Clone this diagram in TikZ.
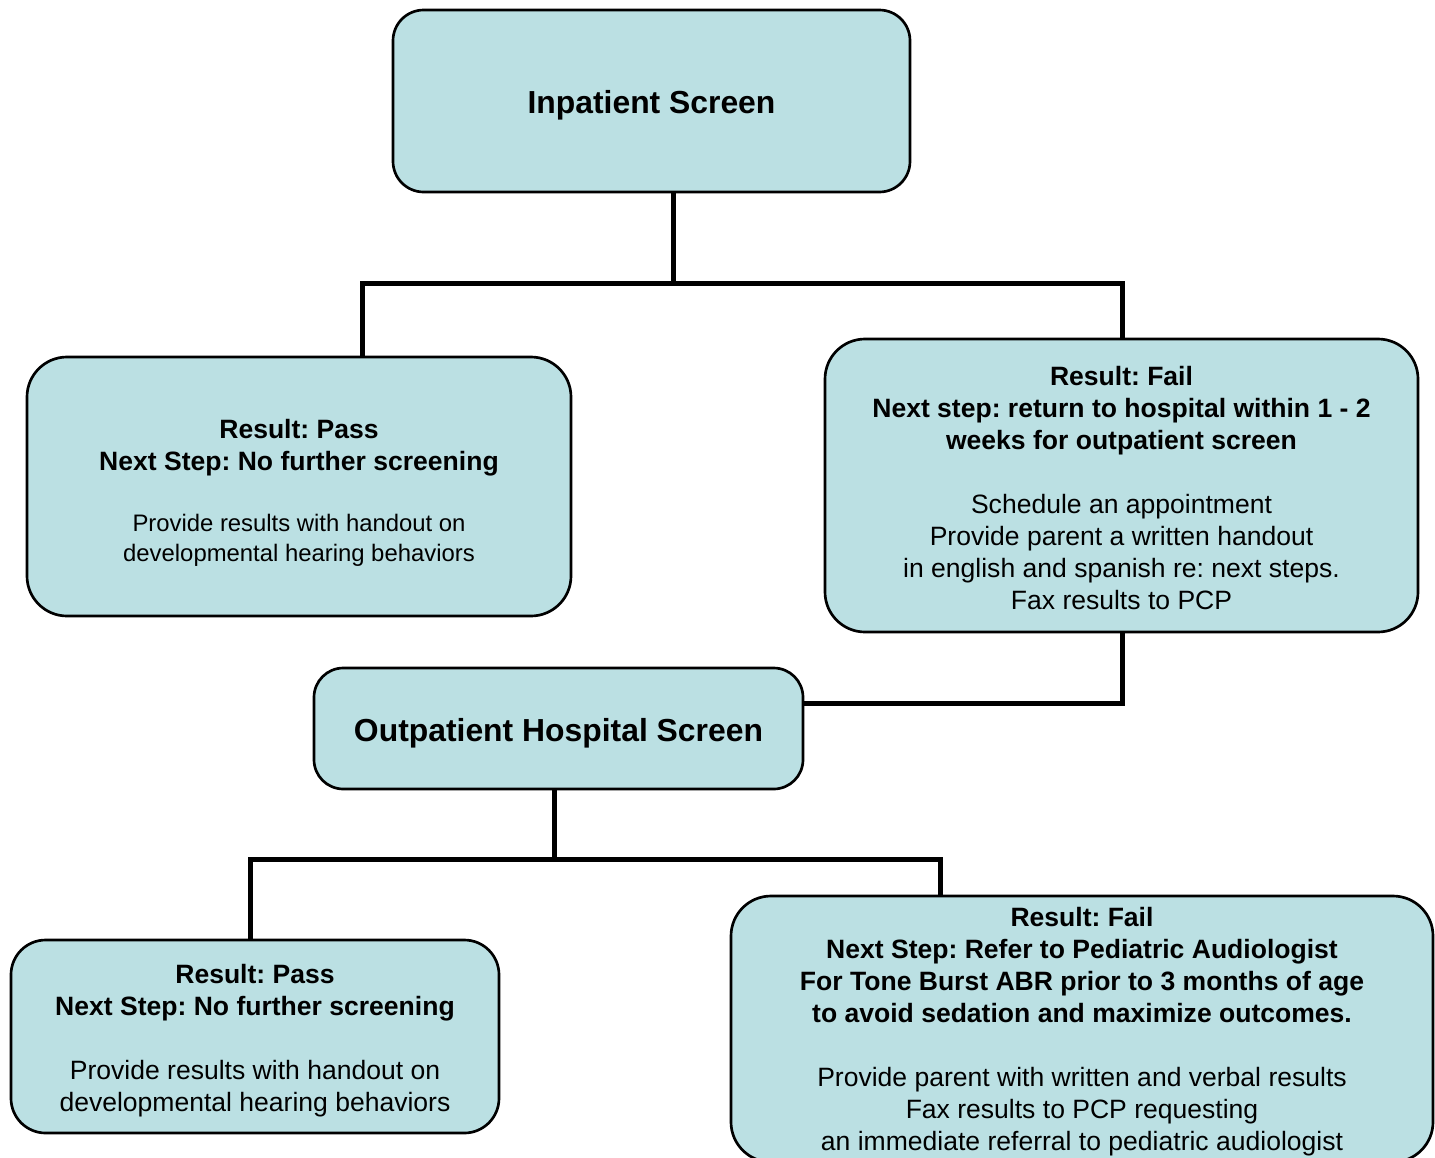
\documentclass[tikz,border=0pt]{standalone}
\usepackage{fontspec}
\setmainfont{Liberation Sans}
\frenchspacing
\definecolor{boxfill}{RGB}{187,224,227}
\newcommand{\topgap}[1]{\rule{0pt}{#1}}
\tikzset{every picture/.style={line width=0.75pt}}
\tikzset{
  stepbox/.style={draw=black, line width=2pt, fill=boxfill, rounded corners=#1, align=center, inner sep=0pt,
    font=\fontsize{19.9}{24}\selectfont},
  stepbox/.default=22pt,
  headtext/.style={font=\fontsize{23.9}{28}\selectfont\bfseries},
  link/.style={draw=black, line width=3.75pt},
}

\begin{document}
\begin{tikzpicture}[x=0.75pt,y=0.75pt,yscale=-1,xscale=1]
	\useasboundingbox (0,0) rectangle (1435,1157);
	
	%Shape: Rounded Rect [inpat]
	\node [stepbox=23pt, headtext, minimum width=387.75pt, minimum height=136.5pt] (inpat) at (651.5,101) {\topgap{24pt}Inpatient Screen};
	%Shape: Rounded Rect [pass1]
	\node [stepbox=30pt, minimum width=408pt, minimum height=194.25pt] (pass1) at (299,486.5)
	  {\topgap{23.5pt}\textbf{Result: Pass}\\ \textbf{Next Step: No further screening}\\[21.75pt]
	   {\fontsize{17.9}{22.5}\selectfont Provide results with handout on}\\[-1.5pt]
	   {\fontsize{17.9}{22.5}\selectfont developmental hearing behaviors}};
	%Shape: Rounded Rect [fail1]
	\node [stepbox=30pt, minimum width=444.75pt, minimum height=219.75pt] (fail1) at (1121.5,485.5)
	  {\topgap{17.5pt}\textbf{Result: Fail}\\ \textbf{Next step: return to hospital within 1 - 2}\\ \textbf{weeks for outpatient screen}\\[24pt]
	   Schedule an appointment\\ Provide parent a written handout\\ in english and spanish re: next steps.\\ Fax results to PCP};
	%Shape: Rounded Rect [outpat]
	\node [stepbox=22pt, headtext, minimum width=366.75pt, minimum height=90.75pt] (outpat) at (558.5,728.5) {\topgap{25pt}Outpatient Hospital Screen};
	%Shape: Rounded Rect [pass2]
	\node [stepbox=26pt, minimum width=366pt, minimum height=144.75pt] (pass2) at (255,1036.5)
	  {\topgap{21pt}\textbf{Result: Pass}\\ \textbf{Next Step: No further screening}\\[24pt]
	   Provide results with handout on\\ developmental hearing behaviors};
	%Shape: Rounded Rect [fail2]
	\node [stepbox=30pt, minimum width=526.5pt, minimum height=199.5pt] (fail2) at (1082,1029)
	  {\topgap{19pt}\textbf{Result: Fail}\\ \textbf{Next Step: Refer to Pediatric Audiologist}\\ \textbf{For Tone Burst ABR prior to 3 months of age}\\ \textbf{to avoid sedation and maximize outcomes.}\\[24pt]
	   Provide parent with written and verbal results\\ Fax results to PCP requesting\\ an immediate referral to pediatric audiologist};
	
	%Straight Lines [joints]
	\coordinate (j1) at (673,283);
	\coordinate (jl) at (362,283);
	\coordinate (jr) at (1122,283);
	\coordinate (k1) at (1122,703);
	\coordinate (j2) at (554,859);
	\coordinate (jl2) at (250,859);
	\coordinate (jr2) at (940,859);
	
	%Straight Lines [links]
	\draw [link] (inpat.south -| j1) -- (j1);
	\draw [link] (pass1.north -| jl) -- (jl) -- (jr) -- (fail1.north -| jr);
	\draw [link] (fail1.south -| k1) -- (k1) -- (outpat.east |- k1);
	\draw [link] (outpat.south -| j2) -- (j2);
	\draw [link] (pass2.north -| jl2) -- (jl2) -- (jr2) -- (fail2.north -| jr2);
	
\end{tikzpicture}
\end{document}
